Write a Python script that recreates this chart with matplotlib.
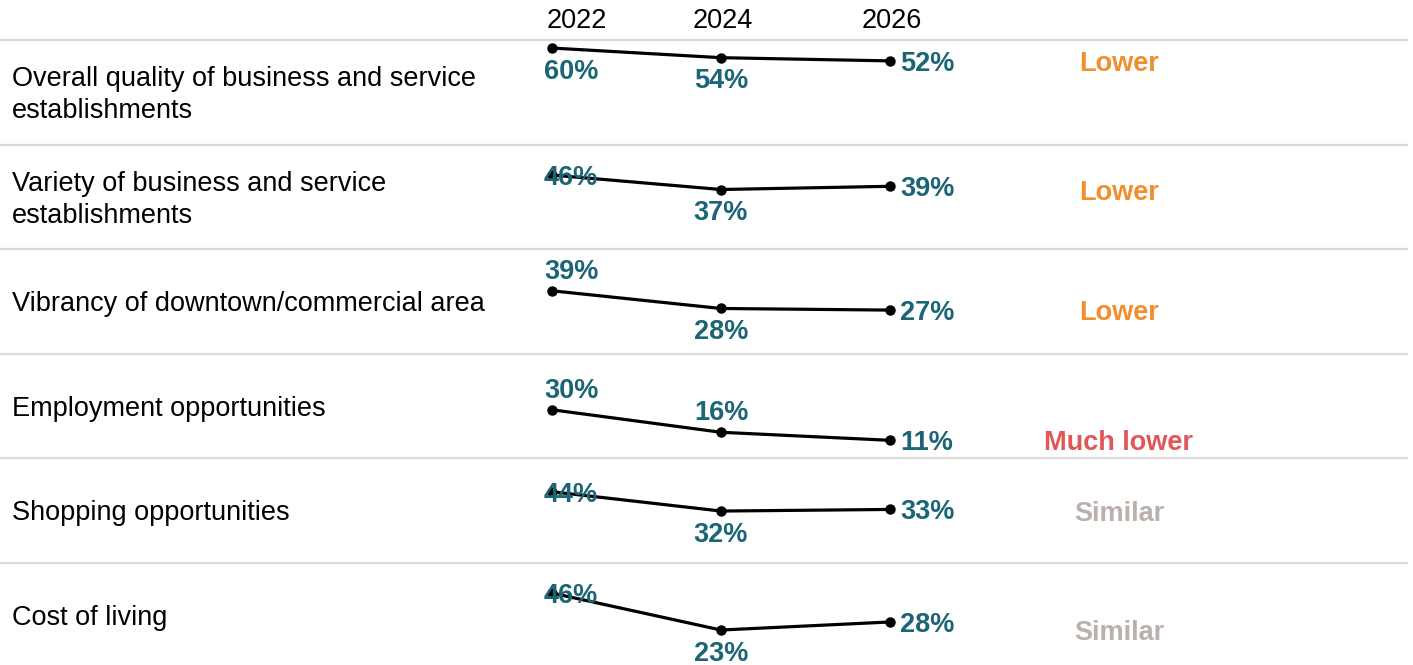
import matplotlib
matplotlib.use("Agg")
import matplotlib.pyplot as plt
import matplotlib.transforms as mtransforms

plt.rcParams['font.family'] = ['Liberation Sans', 'DejaVu Sans']

# ---- data ----
categories = [
    "Overall quality of business and service\nestablishments",
    "Variety of business and service\nestablishments",
    "Vibrancy of downtown/commercial area",
    "Employment opportunities",
    "Shopping opportunities",
    "Cost of living",
]
years = [2022, 2024, 2026]
v2022 = [60, 46, 39, 30, 44, 46]
v2024 = [54, 37, 28, 16, 32, 23]
v2026 = [52, 39, 27, 11, 33, 28]
comparison = ["Lower", "Lower", "Lower", "Much lower", "Similar", "Similar"]

# label placement (style only)
place2022 = ["below", "center", "above", "above", "center", "center"]
place2024 = ["below", "below", "below", "above", "below", "below"]

comp_colors = {"Lower": "#f28e2b", "Much lower": "#e15759", "Similar": "#bab0ac"}
TEAL = "#1b6574"
GRID = "#d9d9d9"
FS = 19.5

W, H = 1413, 665
DPI = 100
fig = plt.figure(figsize=(W / DPI, H / DPI), dpi=DPI)

row_top0 = 40.0
row_h = 104.5
# x scale: 2022 -> 552px, 2026 -> 890px
px_per_year = (890 - 552) / 4.0
x_left = 2022 - 552 / px_per_year
x_right = 2022 + (W - 552) / px_per_year

px2pt = 72.0 / DPI
TDY = -3  # small downward nudge so text visually centres like the reference
vert_off = {"below": -20.5, "center": 0, "above": 22}

for i, cat in enumerate(categories):
    top = row_top0 + i * row_h
    bottom = top + row_h
    ax = fig.add_axes([0, 1 - bottom / H, 1, row_h / H])
    ax.set_xlim(x_left, x_right)
    ax.set_ylim(0, 65)
    ax.axis("off")

    # separator at row top
    ax.plot([0, 1408 / W], [1, 1], transform=ax.transAxes, color=GRID, lw=1.6,
            clip_on=False, solid_capstyle="butt")

    vals = [v2022[i], v2024[i], v2026[i]]
    ax.plot(years, vals, color="black", lw=2.3, marker="o", markersize=6.5,
            clip_on=False, zorder=2)

    # value labels
    ax.annotate(f"{vals[0]}%", xy=(years[0], vals[0]),
                xytext=(-8 * px2pt, (vert_off[place2022[i]] + TDY) * px2pt),
                textcoords="offset points", ha="left", va="center",
                fontsize=FS, fontweight="bold", color=TEAL, zorder=3)
    ax.annotate(f"{vals[1]}%", xy=(years[1], vals[1]),
                xytext=(0, (vert_off[place2024[i]] + TDY) * px2pt),
                textcoords="offset points", ha="center", va="center",
                fontsize=FS, fontweight="bold", color=TEAL, zorder=3)
    ax.annotate(f"{vals[2]}%", xy=(years[2], vals[2]),
                xytext=(10 * px2pt, TDY * px2pt), textcoords="offset points",
                ha="left", va="center",
                fontsize=FS, fontweight="bold", color=TEAL, zorder=3)

    # category label
    ax.annotate(cat, xy=(12 / W, 0.5), xycoords="axes fraction",
                xytext=(0, TDY * px2pt), textcoords="offset points",
                ha="left", va="center", fontsize=FS, color="black",
                linespacing=1.32)

    # comparison label at y of min value
    trans = mtransforms.blended_transform_factory(ax.transAxes, ax.transData)
    ax.annotate(comparison[i], xy=(1119 / W, min(vals)), xycoords=trans,
                xytext=(0, TDY * px2pt), textcoords="offset points",
                ha="center", va="center", fontsize=FS, fontweight="bold",
                color=comp_colors[comparison[i]])

    if i == 0:
        header_ha = ["left", "center", "center"]
        header_dx = [-5, 2, 2]
        for yr, ha, dx in zip(years, header_ha, header_dx):
            ax.annotate(str(yr), xy=(yr, 1), xycoords=("data", "axes fraction"),
                        xytext=(dx * px2pt, (22 + TDY) * px2pt),
                        textcoords="offset points",
                        ha=ha, va="center", fontsize=FS, color="black")

fig.savefig("out.png", dpi=DPI, facecolor="white")
